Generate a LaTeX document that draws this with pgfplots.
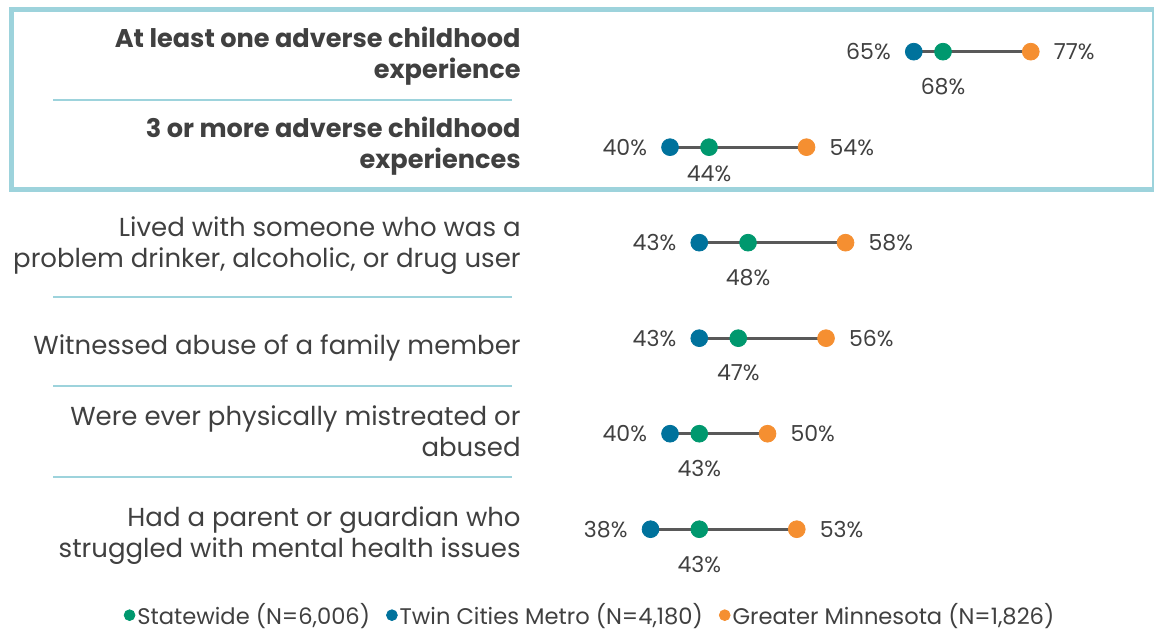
\documentclass[border=0pt]{standalone}
\usepackage{pgfplots}
\pgfplotsset{compat=1.18}
\usepackage{pgfplotstable}
\usepackage{fontspec}
\setmainfont{Poppins}

\definecolor{tcblue}{HTML}{00729C}
\definecolor{stgreen}{HTML}{00986E}
\definecolor{gmorange}{HTML}{F58F31}
\definecolor{linegray}{HTML}{595959}
\definecolor{txtgray}{HTML}{404040}
\definecolor{frameblue}{HTML}{9DD3DC}

% row, Twin Cities Metro, Statewide, Greater Minnesota, drop of the statewide label (pt)
\pgfplotstableread{
row twin state greater drop
0   65   68    77      17.5
1   40   44    54      13.5
2   43   48    58      17.5
3   43   47    56      17.5
4   40   43    50      17.5
5   38   43    53      17.5
}\acedata

\begin{document}
\begin{tikzpicture}
\begin{axis}[
    name=ax,
    scale only axis,
    width=577pt, height=316.5pt,
    xmin=-28.72, xmax=89.64,
    ymin=-0.541, ymax=6.087,
    y dir=reverse,
    hide axis,
    clip=false,
    /pgf/number format/assume math mode=true,
    point meta=x,
    nodes near coords={\pgfmathprintnumber{\pgfplotspointmeta}\%},
    every node near coord/.append style={font=\fontsize{11}{13}\selectfont, text=txtgray},
    legend columns=3,
    legend style={at={(axis cs:31.8,5.9)}, anchor=center, draw=none, fill=none,
        font=\fontsize{11.3}{13}\selectfont, text=txtgray,
        /tikz/every even column/.append style={column sep=7pt},
        nodes={inner sep=1pt}},
    legend image code/.code={\fill (0.12cm,0pt) circle (2.7pt);},
]

% frame round the two summary rows
\draw[frameblue, line width=2.5pt] (axis cs:-27.49,-0.437) rectangle (axis cs:89.64,1.448);

% separators
\foreach \yy in {0.506,2.569,3.5,4.453}{
    \edef\tmp{\noexpand\draw[frameblue, line width=1pt] (axis cs:-23.28,\yy) -- (axis cs:23.79,\yy);}
    \tmp
}

% connecting lines
\addplot[forget plot, only marks, mark=none, nodes near coords={},
    error bars/.cd, x dir=both, x explicit, error mark=none,
    error bar style={line width=1.5pt, color=linegray}]
    table[x=state, y=row,
    x error plus expr={\thisrow{greater}-\thisrow{state}},
    x error minus expr={\thisrow{state}-\thisrow{twin}}] {\acedata};

\addplot[only marks, mark=*, mark size=4.2pt, color=stgreen,
    visualization depends on={\thisrow{drop} \as \drop},
    every node near coord/.append style={anchor=center, yshift=-\drop pt}]
    table[x=state, y=row] {\acedata};
\addlegendentry{Statewide (N=6,006)}

\addplot[only marks, mark=*, mark size=4.2pt, color=tcblue,
    every node near coord/.append style={anchor=east, xshift=-8pt}]
    table[x=twin, y=row] {\acedata};
\addlegendentry{Twin Cities Metro (N=4,180)}

\addplot[only marks, mark=*, mark size=4.2pt, color=gmorange,
    every node near coord/.append style={anchor=west, xshift=8pt}]
    table[x=greater, y=row] {\acedata};
\addlegendentry{Greater Minnesota (N=1,826)}

% category labels
\begin{scope}[every node/.style={anchor=east, align=right, text=txtgray,
        font=\fontsize{13}{15.5}\selectfont}]
\node[font=\fontsize{12.8}{15.5}\selectfont\bfseries] at (axis cs:25.4,0.05) {At least one adverse childhood\\experience};
\node[font=\fontsize{12.8}{15.5}\selectfont\bfseries] at (axis cs:25.4,0.987) {3 or more adverse childhood\\experiences};
\node at (axis cs:25.4,2.035) {Lived with someone who was a\\problem drinker, alcoholic, or drug user};
\node at (axis cs:25.4,3.103) {Witnessed abuse of a family member};
\node at (axis cs:25.4,3.97) {Were ever physically mistreated or\\abused};
\node at (axis cs:25.4,5.066) {Had a parent or guardian who\\struggled with mental health issues};
\end{scope}
\end{axis}
\pgfresetboundingbox
\path (ax.south west) rectangle (ax.north east);
\end{tikzpicture}
\end{document}
